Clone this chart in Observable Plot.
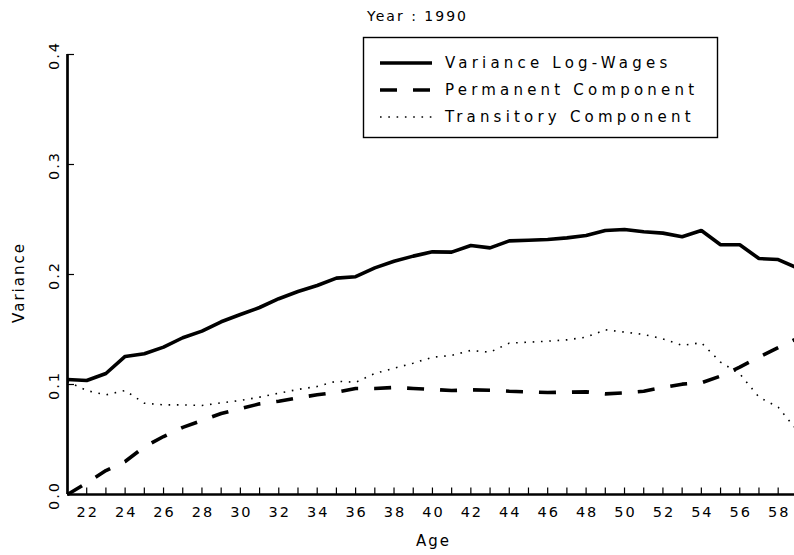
<!DOCTYPE html>
<html><head><meta charset="utf-8">
<script src="https://cdn.jsdelivr.net/npm/d3@7"></script>
<script src="https://cdn.jsdelivr.net/npm/@observablehq/plot@0.6"></script>
<style>
body{margin:0;background:#fff;}
#chart{position:relative;width:794px;height:555px;overflow:hidden;}
#chart svg text{font-family:"DejaVu Sans",sans-serif;letter-spacing:2px;fill:#000;}
#chart svg .legend text{letter-spacing:4.2px;text-anchor:start;}
</style></head>
<body><div id="chart"></div>
<script>
const title = "Year : 1990";
const xLabel = "Age";
const yLabel = "Variance";
const seriesNames = ["Variance Log-Wages", "Permanent Component", "Transitory Component"];
const ages = [21,22,23,24,25,26,27,28,29,30,31,32,33,34,35,36,37,38,39,40,41,42,43,44,45,46,47,48,49,50,51,52,53,54,55,56,57,58,59];
const varianceLogWages = [0.1045,0.1036,0.110,0.1255,0.128,0.134,0.1425,0.1485,0.157,0.1636,0.170,0.178,0.1845,0.190,0.1967,0.198,0.206,0.212,0.2167,0.2206,0.2203,0.2264,0.2242,0.2306,0.2312,0.2318,0.2333,0.2355,0.240,0.2409,0.2388,0.2376,0.2343,0.240,0.227,0.227,0.2145,0.2136,0.206];
const permanentComponent = [0.000,0.0106,0.0218,0.030,0.0433,0.0527,0.061,0.0673,0.0736,0.078,0.0824,0.0848,0.0879,0.0906,0.093,0.0964,0.0964,0.0973,0.0964,0.0955,0.0945,0.0952,0.0948,0.0939,0.0933,0.0927,0.093,0.0933,0.0915,0.0924,0.0939,0.0973,0.1003,0.1015,0.1076,0.1158,0.1248,0.1336,0.142];
const transitoryComponent = [0.1027,0.0945,0.0906,0.0945,0.083,0.0815,0.0815,0.0809,0.0833,0.0855,0.0885,0.0921,0.0955,0.0982,0.103,0.102,0.110,0.1148,0.1194,0.1248,0.1264,0.131,0.1294,0.1376,0.1385,0.1394,0.1406,0.143,0.1497,0.1476,0.1455,0.1415,0.1355,0.138,0.1203,0.1097,0.0885,0.0794,0.058];
const xTickValues = [22,23,24,25,26,27,28,29,30,31,32,33,34,35,36,37,38,39,40,41,42,43,44,45,46,47,48,49,50,51,52,53,54,55,56,57,58];
const xTickLabels = [22,24,26,28,30,32,34,36,38,40,42,44,46,48,50,52,54,56,58];
const yTickValues = [0.1,0.2,0.3,0.4];
const yLabelValues = [0,0.1,0.2,0.3,0.4];
const yTickLabels = ["0.0","0.1","0.2","0.3","0.4"];

const seriesValues = [varianceLogWages, permanentComponent, transitoryComponent];
const rows = seriesValues.flatMap((vals, s) => ages.map((a, i) => ({age: a, value: vals[i], series: seriesNames[s]})));
const styles = [
  {strokeWidth: 3.6},
  {strokeWidth: 3.6, strokeDasharray: "17,16"},
  {strokeWidth: 1.6, strokeDasharray: "1.6,6.7"}
];

const W = 794, H = 555, mL = 67, mR = 0, mT = 54, mB = 61;
const fw = W - mL - mR, fh = H - mT - mB;

const plot = Plot.plot({
  width: W, height: H,
  marginLeft: mL, marginRight: mR, marginTop: mT, marginBottom: mB,
  style: {fontFamily: "DejaVu Sans", fontSize: "14px", background: "#fff", color: "#000"},
  x: {domain: [21, 58.85], axis: null},
  y: {domain: [0, 0.4], axis: null},
  marks: [
    ...seriesNames.map((name, s) => Plot.line(rows.filter(r => r.series === name), {
      x: "age", y: "value", stroke: "#000", strokeLinejoin: "miter", strokeLinecap: "butt", ...styles[s]
    })),
    Plot.tickX(xTickValues, {x: d => d, insetTop: fh - 6.5, stroke: "#000", strokeWidth: 1.2}),
    Plot.tickY(yTickValues, {y: d => d, insetRight: fw - 7, stroke: "#000", strokeWidth: 1.2}),
    Plot.ruleX([21], {y1: 0, y2: 0.4, stroke: "#000", strokeWidth: 2.7}),
    Plot.ruleY([0], {stroke: "#000", strokeWidth: 2.7}),
    Plot.text(xTickLabels, {x: d => d, frameAnchor: "bottom", lineAnchor: "middle", dy: 18, dx: 1, text: d => String(d), fontSize: 14.5}),
    Plot.text(yLabelValues, {y: d => d, frameAnchor: "left", textAnchor: "middle", lineAnchor: "middle", dx: -13.5, dy: 1, rotate: -90, text: (d, i) => yTickLabels[i], fontSize: 14.5}),
    Plot.text([xLabel], {frameAnchor: "bottom", lineAnchor: "middle", dy: 47, dx: 2.5, text: d => d, fontSize: 15}),
    Plot.text([yLabel], {frameAnchor: "left", textAnchor: "middle", lineAnchor: "middle", dx: -48, dy: 8, rotate: -90, text: d => d, fontSize: 15}),
    Plot.text([title], {frameAnchor: "top", lineAnchor: "middle", dy: -38, dx: -13.5, text: d => d, fontSize: 14})
  ]
});
document.getElementById("chart").appendChild(plot);

// legend
const svg = d3.select(plot);
const lg = svg.append("g").attr("class", "legend");
lg.append("rect").attr("x", 363.5).attr("y", 37.5).attr("width", 354).attr("height", 100)
  .attr("fill", "#fff").attr("stroke", "#000").attr("stroke-width", 1.4);
seriesNames.forEach((name, s) => {
  const y = 63 + s * 27;
  lg.append("line").attr("x1", 380).attr("x2", 432).attr("y1", y).attr("y2", y)
    .attr("stroke", "#000").attr("stroke-width", styles[s].strokeWidth)
    .attr("stroke-dasharray", styles[s].strokeDasharray || null);
  lg.append("text").attr("x", 445).attr("y", y).attr("dy", "0.35em")
    .attr("text-anchor", "start").attr("font-size", 15).text(name);
});
</script>
</body></html>
